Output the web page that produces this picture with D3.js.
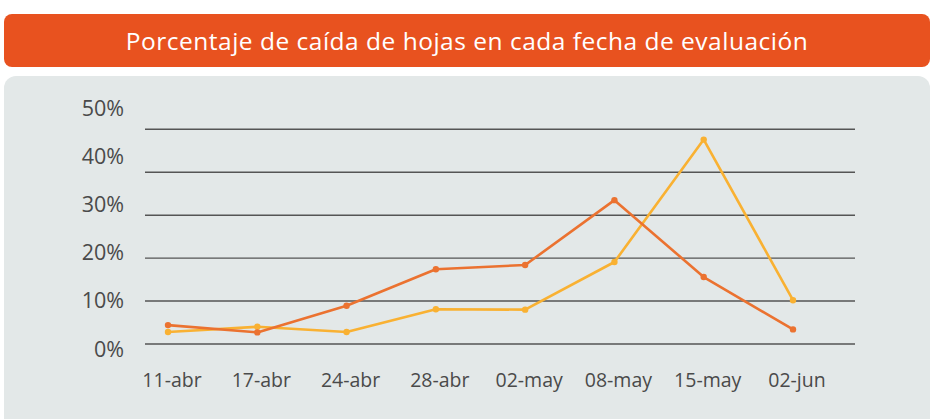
<!DOCTYPE html>
<html><head><meta charset="utf-8">
<script src="https://cdn.jsdelivr.net/npm/d3@7"></script>
<style>
html,body{margin:0;padding:0;background:#fff;}
svg{display:block;}
text{font-family:"Open Sans",sans-serif;}
</style></head>
<body>
<svg id="c" width="940" height="419"></svg>
<script>
const title = "Porcentaje de caída de hojas en cada fecha de evaluación";
const categories = ["11-abr","17-abr","24-abr","28-abr","02-may","08-may","15-may","02-jun"];
const seriesOrange = [4.4, 2.7, 8.9, 17.4, 18.4, 33.5, 15.6, 3.4];
const seriesYellow = [2.8, 4.0, 2.8, 8.1, 8.0, 19.1, 47.6, 10.2];
const yTicks = [0, 10, 20, 30, 40, 50];
const yTickLabels = ["0%","10%","20%","30%","40%","50%"];

const svg = d3.select("#c");
// title bar
svg.append("rect").attr("x",4).attr("y",14).attr("width",926).attr("height",53).attr("rx",8).attr("fill","#E8521F");
svg.append("text").attr("x",467).attr("y",50).attr("text-anchor","middle").attr("fill","#fff")
  .attr("font-size",24.5).attr("letter-spacing",0.5).text(title);
// panel
svg.append("rect").attr("x",4).attr("y",76).attr("width",926).attr("height",360).attr("rx",12).attr("fill","#E3E8E8");

const x = d3.scalePoint().domain(categories).range([168, 793]);
const y = d3.scaleLinear().domain([0, 50]).range([344, 129.3]);
const yLab = d3.scaleLinear().domain([0, 50]).range([349, 108]);

// gridlines
svg.append("g").selectAll("line").data(yTicks).join("line")
  .attr("x1",145).attr("x2",855).attr("y1",d=>y(d)).attr("y2",d=>y(d))
  .attr("stroke","#555").attr("stroke-width",1.4);

// y labels
svg.append("g").selectAll("text").data(yTicks).join("text")
  .attr("x",124).attr("y",d=>yLab(d)).attr("dy","0.35em").attr("text-anchor","end")
  .attr("fill","#4a4a4a").attr("font-size",21.5).text((d,i)=>yTickLabels[i]);

// x labels
svg.append("g").selectAll("text").data(categories).join("text")
  .attr("x",d=>x(d)+4).attr("y",387).attr("text-anchor","middle")
  .attr("fill","#4a4a4a").attr("font-size",19.5).text(d=>d);

const line = d3.line().x((d,i)=>x(categories[i])).y(d=>y(d));
function drawSeries(vals, color){
  svg.append("path").datum(vals).attr("d",line).attr("fill","none")
    .attr("stroke",color).attr("stroke-width",2.6).attr("stroke-linejoin","round");
  svg.append("g").selectAll("circle").data(vals).join("circle")
    .attr("cx",(d,i)=>x(categories[i])).attr("cy",d=>y(d)).attr("r",3.2).attr("fill",color);
}
drawSeries(seriesYellow, "#F9B132");
drawSeries(seriesOrange, "#EB7230");
</script>
</body></html>
